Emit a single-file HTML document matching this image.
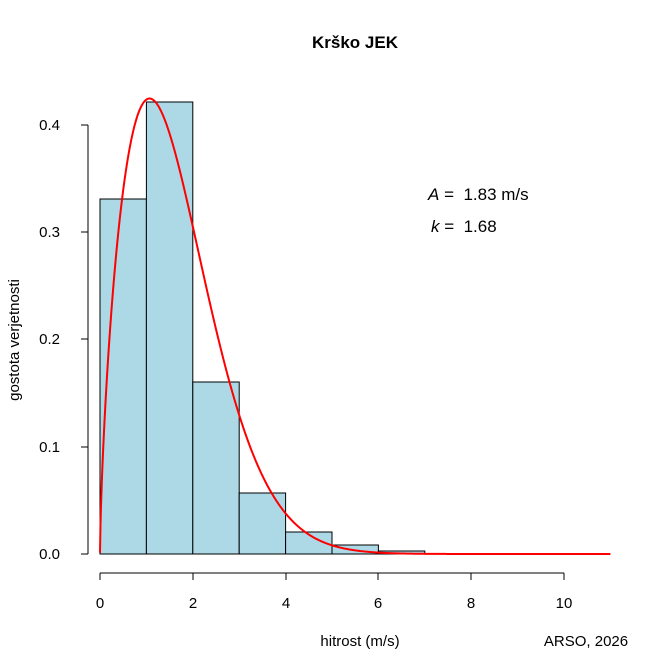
<!DOCTYPE html>
<html><head><meta charset="utf-8"><style>body{margin:0;background:#fff}svg{display:block}</style></head>
<body>
<svg id="s" width="672" height="671" xmlns="http://www.w3.org/2000/svg" font-family="Liberation Sans, sans-serif">
<rect width="672" height="671" fill="#fff"/>
<text x="355" y="48" font-size="17" font-weight="bold" text-anchor="middle">Krško JEK</text>
<g fill="#add8e6" stroke="#000" stroke-width="1">
<rect x="100" y="199" width="46.4" height="355"/>
<rect x="146.4" y="102" width="46.4" height="452"/>
<rect x="192.8" y="382" width="46.4" height="172"/>
<rect x="239.2" y="493" width="46.4" height="61"/>
<rect x="285.6" y="532" width="46.4" height="22"/>
<rect x="332" y="545" width="46.4" height="9"/>
<rect x="378.4" y="551" width="46.4" height="3"/>
</g>
<path id="c" fill="none" stroke="#f00" stroke-width="2"/>
<g stroke="#000" fill="none">
<line x1="88" y1="125" x2="88" y2="554"/>
<line x1="81" y1="554" x2="88" y2="554"/><line x1="81" y1="447" x2="88" y2="447"/><line x1="81" y1="339" x2="88" y2="339"/><line x1="81" y1="232" x2="88" y2="232"/><line x1="81" y1="125" x2="88" y2="125"/>
<line x1="100" y1="573" x2="564" y2="573"/>
<line x1="100" y1="573" x2="100" y2="580"/><line x1="193" y1="573" x2="193" y2="580"/><line x1="286" y1="573" x2="286" y2="580"/><line x1="378" y1="573" x2="378" y2="580"/><line x1="471" y1="573" x2="471" y2="580"/><line x1="564" y1="573" x2="564" y2="580"/>
</g>
<g font-size="15" text-anchor="end">
<text x="60" y="559">0.0</text>
<text x="60" y="452">0.1</text>
<text x="60" y="344">0.2</text>
<text x="60" y="237">0.3</text>
<text x="60" y="130">0.4</text>
</g>
<g font-size="15" text-anchor="middle">
<text x="100" y="608">0</text><text x="193" y="608">2</text><text x="286" y="608">4</text><text x="378" y="608">6</text><text x="471" y="608">8</text><text x="564" y="608">10</text>
<text x="360" y="646">hitrost (m/s)</text>
<text x="586" y="646">ARSO, 2026</text>
<text transform="translate(19,340) rotate(-90)">gostota verjetnosti</text>
</g>
<g font-size="17" style="white-space:pre">
<text x="428" y="200" xml:space="preserve"><tspan font-style="italic">A</tspan> =  1.83 m/s</text>
<text x="431" y="232" xml:space="preserve"><tspan font-style="italic">k</tspan> =  1.68</text>
</g>
<script>
var A=1.83,k=1.68,d="";
for(var i=0;i<=1100;i++){var x=i/100+0.0001;var f=(k/A)*Math.pow(x/A,k-1)*Math.exp(-Math.pow(x/A,k));
d+=(i?"L":"M")+(100+x*46.4).toFixed(2)+","+(554-f*1072.5).toFixed(2);}
document.getElementById("c").setAttribute("d",d);
</script>
</svg>
</body></html>
